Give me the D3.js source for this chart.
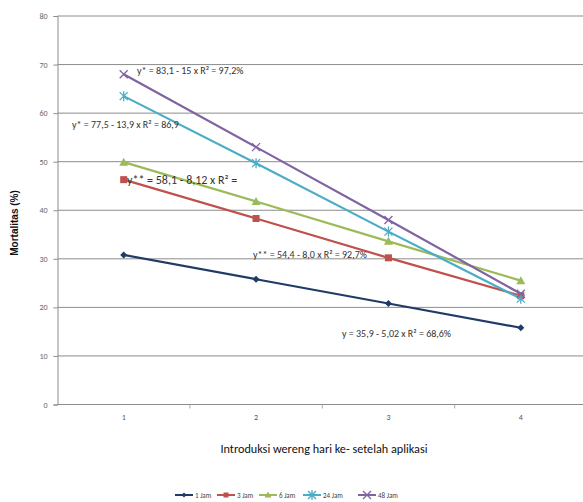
<!DOCTYPE html>
<html>
<head>
<meta charset="utf-8">
<script src="https://cdn.jsdelivr.net/npm/d3@7"></script>
<style>
  body { margin: 0; background: #fff; }
  text { font-family: Calibri, Carlito, "Liberation Sans", Arial, sans-serif; }
</style>
</head>
<body>
<div id="chart"></div>
<script>
var days = ["1", "2", "3", "4"];
var jam1 = [30.8, 25.8, 20.8, 15.8];
var jam3 = [46.3, 38.3, 30.2, 22.4];
var jam6 = [49.9, 41.8, 33.6, 25.5];
var jam24 = [63.5, 49.7, 35.6, 21.8];
var jam48 = [68.0, 53.0, 38.0, 22.8];
var seriesNames = ["1 Jam", "3 Jam", "6 Jam", "24 Jam", "48 Jam"];
var yTicks = [0, 10, 20, 30, 40, 50, 60, 70, 80];

var series = [
    { name: seriesNames[0], values: jam1, color: "#1f3b66", marker: "diamond" },
    { name: seriesNames[1], values: jam3, color: "#c0504d", marker: "square" },
    { name: seriesNames[2], values: jam6, color: "#9bbb59", marker: "triangle" },
    { name: seriesNames[3], values: jam24, color: "#4bacc6", marker: "star" },
    { name: seriesNames[4], values: jam48, color: "#8064a2", marker: "cross" }
];

// regression labels, placed next to their lines
var notes = [
    { text: "y* = 83,1 - 15 x   R² = 97,2%", x: 137, y: 74, size: 10 },
    { text: "y* = 77,5 - 13,9 x   R² = 86,9", x: 72, y: 128, size: 10 },
    { text: "y** = 58,1 - 8,12 x  R² =", x: 127, y: 184, size: 12 },
    { text: "y** = 54,4 - 8,0 x   R² = 92,7%", x: 253, y: 258, size: 10 },
    { text: "y = 35,9 - 5,02 x   R² = 68,6%", x: 342, y: 337, size: 10 }
];

var width = 583, height = 502;
var plotLeft = 57.5, plotRight = 587, plotTop = 16, plotBottom = 404.5;

var svg = d3.select("#chart").append("svg")
    .attr("width", width)
    .attr("height", height);

var x = d3.scaleBand().domain(days).range([plotLeft, plotRight]);
var y = d3.scaleLinear().domain([0, 80]).range([plotBottom, plotTop]);

// gridlines
svg.selectAll("line.grid")
    .data(yTicks.slice(1))
    .enter().append("line")
    .attr("x1", plotLeft).attr("x2", width)
    .attr("y1", function (d) { return y(d); })
    .attr("y2", function (d) { return y(d); })
    .attr("stroke", "#8c8c8c")
    .attr("stroke-width", 1);

var yAxis = svg.append("g")
    .attr("transform", "translate(" + plotLeft + ",0)")
    .call(d3.axisLeft(y).tickValues(yTicks).tickSize(4).tickPadding(6));
yAxis.select(".domain").attr("stroke", "#8c8c8c");
yAxis.selectAll(".tick line").attr("stroke", "#8c8c8c");
yAxis.selectAll(".tick text").attr("fill", "#666").style("font-size", "8px");

var xAxis = svg.append("g")
    .attr("transform", "translate(0," + plotBottom + ")")
    .call(d3.axisBottom(x).tickSize(0).tickPadding(10));
xAxis.select(".domain").remove();
xAxis.selectAll(".tick text").attr("fill", "#555").style("font-size", "8px");
svg.append("line")
    .attr("x1", plotLeft).attr("x2", width)
    .attr("y1", plotBottom).attr("y2", plotBottom)
    .attr("stroke", "#8c8c8c");
// small ticks between categories
svg.selectAll("line.xtick")
    .data(days.slice(1))
    .enter().append("line")
    .attr("x1", function (d) { return x(d); })
    .attr("x2", function (d) { return x(d); })
    .attr("y1", plotBottom).attr("y2", plotBottom + 4)
    .attr("stroke", "#aaa");

var line = d3.line()
    .x(function (d, i) { return x(days[i]) + x.bandwidth() / 2; })
    .y(function (d) { return y(d); });

function drawMarker(g, type, color, s) {
    if (type === "diamond") {
        g.append("path").attr("d", "M0,-" + s + "L" + s + ",0L0," + s + "L-" + s + ",0Z").attr("fill", color);
    } else if (type === "square") {
        g.append("rect").attr("x", -s).attr("y", -s).attr("width", 2 * s).attr("height", 2 * s).attr("fill", color);
    } else if (type === "triangle") {
        g.append("path").attr("d", "M0,-" + (s + 1) + "L" + (s + 1) + "," + s + "L-" + (s + 1) + "," + s + "Z").attr("fill", color);
    } else if (type === "star") {
        g.append("path").attr("d", "M-4,-4L4,4M-4,4L4,-4M0,-5L0,5").attr("stroke", color).attr("stroke-width", 1.3);
    } else {
        g.append("path").attr("d", "M-4,-4L4,4M-4,4L4,-4").attr("stroke", color).attr("stroke-width", 1.3);
    }
}

series.forEach(function (s) {
    svg.append("path")
        .datum(s.values)
        .attr("d", line)
        .attr("fill", "none")
        .attr("stroke", s.color)
        .attr("stroke-width", 2.2);
    s.values.forEach(function (v, i) {
        var g = svg.append("g")
            .attr("transform", "translate(" + (x(days[i]) + x.bandwidth() / 2) + "," + y(v) + ")");
        drawMarker(g, s.marker, s.color, 3.5);
    });
});

svg.selectAll("text.note")
    .data(notes)
    .enter().append("text")
    .attr("x", function (d) { return d.x; })
    .attr("y", function (d) { return d.y; })
    .style("font-size", function (d) { return d.size + "px"; })
    .attr("fill", "#333")
    .text(function (d) { return d.text; });

svg.append("text")
    .attr("transform", "translate(18,223) rotate(-90)")
    .attr("text-anchor", "middle")
    .style("font-family", "'Liberation Sans', Arial, sans-serif")
    .style("font-size", "10px")
    .style("font-weight", "bold")
    .attr("fill", "#111")
    .text("Mortalitas (%)");

svg.append("text")
    .attr("x", 324).attr("y", 453)
    .attr("text-anchor", "middle")
    .style("font-size", "12.2px")
    .attr("fill", "#111")
    .text("Introduksi wereng hari ke- setelah aplikasi");

// legend
var legendX = [175, 217, 259, 303, 358];
series.forEach(function (s, i) {
    var g = svg.append("g").attr("transform", "translate(" + legendX[i] + ",495)");
    g.append("line").attr("x1", 0).attr("x2", 18).attr("stroke", s.color).attr("stroke-width", 2);
    var m = g.append("g").attr("transform", "translate(9,0)");
    drawMarker(m, s.marker, s.color, 2.5);
    g.append("text").attr("x", 20).attr("y", 2.5)
        .style("font-size", "7px").attr("fill", "#444").text(s.name);
});
</script>
</body>
</html>
